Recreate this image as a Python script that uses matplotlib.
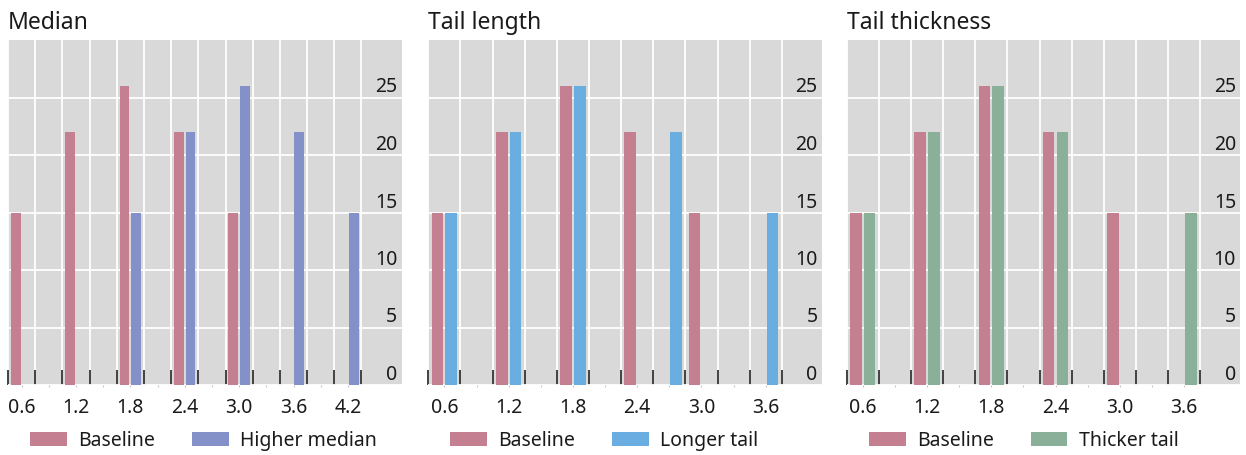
import matplotlib
matplotlib.use("Agg")
import matplotlib.pyplot as plt
import numpy as np

plt.rcParams['font.family'] = ['Noto Sans', 'DejaVu Sans']

# ---- data ----
cats_median = ["0.6", "0.9", "1.2", "1.5", "1.8", "2.1", "2.4", "2.7", "3.0", "3.3", "3.6", "3.9", "4.2"]
median_baseline = [15, 0, 22, 0, 26, 0, 22, 0, 15, 0, 0, 0, 0]
median_higher = [0, 0, 0, 0, 15, 0, 22, 0, 26, 0, 22, 0, 15]

cats_tail = ["0.6", "0.9", "1.2", "1.5", "1.8", "2.1", "2.4", "2.7", "3.0", "3.3", "3.6"]
length_baseline = [15, 0, 22, 0, 26, 0, 22, 0, 15, 0, 0]
length_longer = [15, 0, 22, 0, 26, 0, 0, 22, 0, 0, 15]

thick_baseline = [15, 0, 22, 0, 26, 0, 22, 0, 15, 0, 0]
thick_thicker = [15, 0, 22, 0, 26, 0, 22, 0, 0, 0, 15]

titles = ["Median", "Tail length", "Tail thickness"]
second_names = ["Higher median", "Longer tail", "Thicker tail"]
yticks = [0, 5, 10, 15, 20, 25]

c_base = "#c48090"
c_second = ["#8490c8", "#6aade0", "#8ab09a"]
bg = "#d9d9d9"

panels = [
    (cats_median, median_baseline, median_higher),
    (cats_tail, length_baseline, length_longer),
    (cats_tail, thick_baseline, thick_thicker),
]

W, H = 1246, 455
fig = plt.figure(figsize=(W / 100, H / 100), dpi=100)

lefts_px = [8, 428.3, 846.7]
width_px = 393.5
top_px, bottom_px = 40, 385
ax_h = bottom_px - top_px

for k, (cats, base, second) in enumerate(panels):
    ax = fig.add_axes([lefts_px[k] / W, 1 - bottom_px / H, width_px / W, ax_h / H])
    ax.set_facecolor(bg)
    n = len(cats)
    x = np.arange(n)
    bw = 0.36
    off = 0.215
    ax.bar(x - off, base, width=bw, color=c_base, zorder=3, label="Baseline")
    ax.bar(x + off, second, width=bw, color=c_second[k], zorder=3, label=second_names[k])

    ax.set_xlim(-0.5, -0.5 + n * 1180 / 1060)
    ax.set_ylim(0, 30)

    # boundaries: major ticks (grid + inward tick marks)
    bounds = np.arange(n + 1) - 0.5
    ax.set_xticks(bounds)
    ax.set_xticklabels([])
    ax.tick_params(axis='x', which='major', direction='in', length=11, width=1.2,
                   color='#222222', bottom=True, top=False)
    # category centres: minor ticks with labels every other
    ax.set_xticks(x, minor=True)
    ax.set_xticklabels([c if i % 2 == 0 else "" for i, c in enumerate(cats)], minor=True)
    ax.tick_params(axis='x', which='minor', direction='out', length=1.5, width=0.8,
                   color='#c8c8c8', labelsize=14, pad=8, labelcolor='#1a1a1a')

    ax.grid(axis='x', which='major', color='white', lw=1.3, zorder=1)
    ax.set_yticks(yticks)
    ax.grid(axis='y', which='major', color='white', lw=1.3, zorder=1)
    ax.tick_params(axis='y', which='major', left=False, labelleft=False,
                   right=True, labelright=True, length=0, pad=-3,
                   labelsize=14, labelcolor='#1a1a1a')
    for lbl in ax.yaxis.get_majorticklabels():
        lbl.set_horizontalalignment('right')
        lbl.set_verticalalignment('bottom')

    for s in ax.spines.values():
        s.set_visible(False)

    ax.set_title(titles[k], loc='left', fontsize=16.5, color='#1a1a1a', pad=8, x=0.0)

    leg = ax.legend(loc='center left', bbox_to_anchor=(22 / width_px, -56 / ax_h), ncol=2,
                    frameon=False, fontsize=14, handlelength=1.9, handleheight=0.72,
                    columnspacing=1.9, handletextpad=0.57, borderaxespad=0, borderpad=0)
    for t in leg.get_texts():
        t.set_color('#1a1a1a')

fig.savefig("out.png", dpi=100)
